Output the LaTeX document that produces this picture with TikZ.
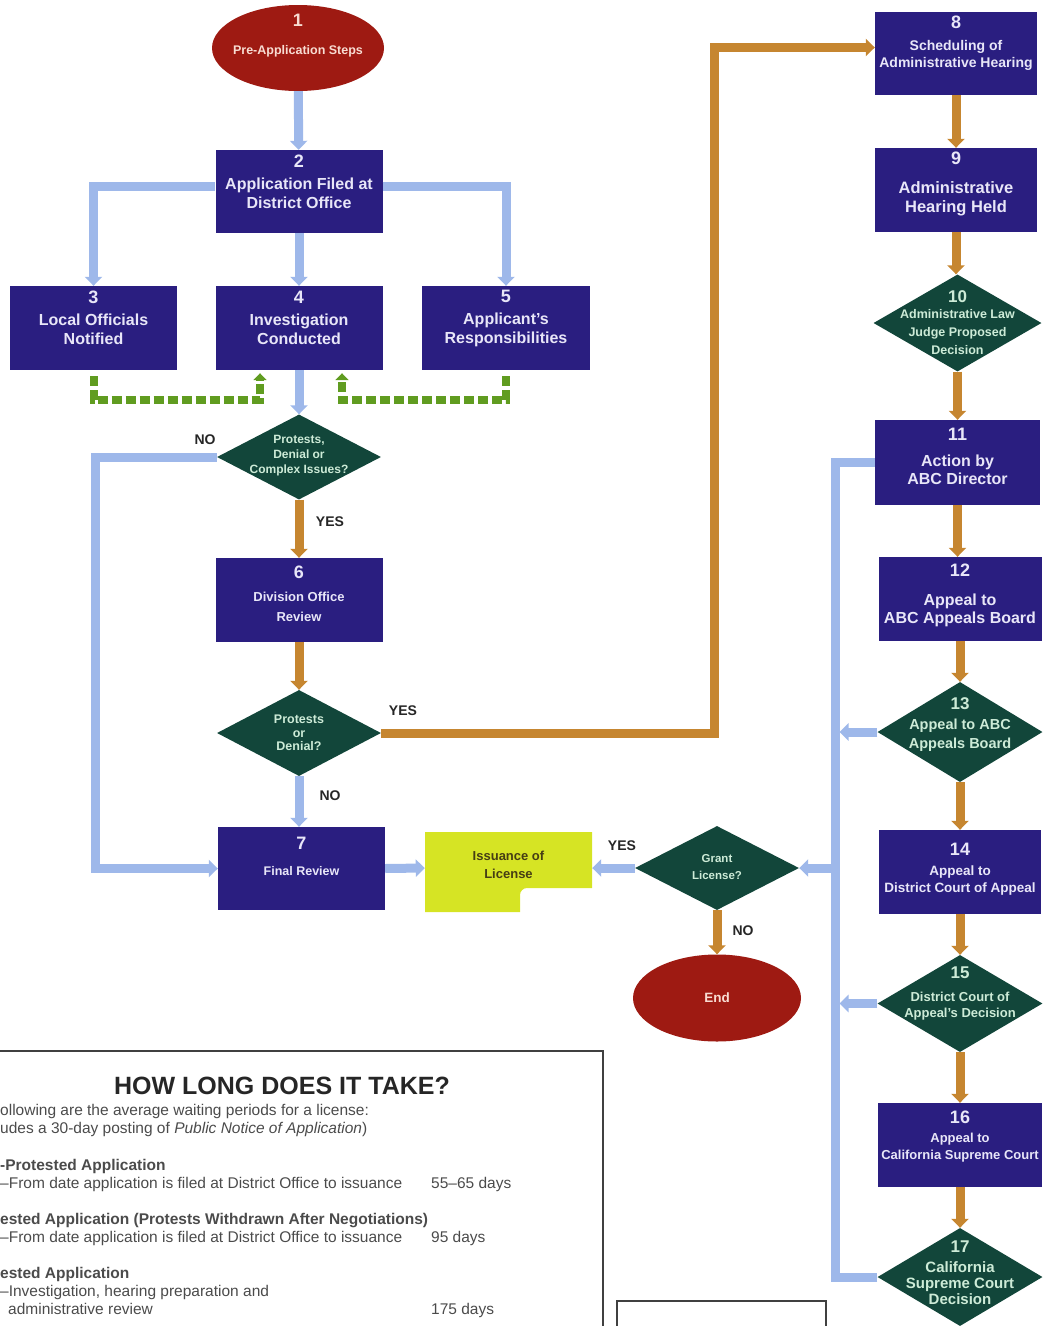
\documentclass[tikz,border=0pt]{standalone}
\usepackage{fontspec}
\setmainfont{Liberation Sans}
\usetikzlibrary{arrows.meta,shapes.geometric}
\definecolor{navy}{RGB}{42,30,128}
\definecolor{navytext}{RGB}{232,230,248}
\definecolor{tealdk}{RGB}{18,70,58}
\definecolor{minttext}{RGB}{205,235,215}
\definecolor{redov}{RGB}{158,26,18}
\definecolor{pinktext}{RGB}{248,220,210}
\definecolor{lblue}{RGB}{158,184,234}
\definecolor{orng}{RGB}{198,134,48}
\definecolor{grn}{RGB}{96,156,32}
\definecolor{yel}{RGB}{214,228,36}
\definecolor{olivetext}{RGB}{70,62,20}
\definecolor{graytext}{RGB}{75,75,75}
\newcommand\bnum[1]{{\fontsize{18}{18}\selectfont #1}}
\newcommand\dnum[1]{{\fontsize{17}{17}\selectfont #1}}
\begin{document}
\begin{tikzpicture}[x=1pt,y=-1pt,
 box/.style={rectangle, fill=navy, minimum width=167pt, minimum height=84pt, inner sep=0pt},
 btxt/.style={text=navytext, align=center, font=\bfseries\fontsize{16}{19}\selectfont, inner sep=0pt},
 dia/.style={diamond, fill=tealdk, minimum width=164pt, minimum height=85pt, inner sep=0pt},
 dtxt/.style={text=minttext, align=center, font=\bfseries\fontsize{12}{15}\selectfont, inner sep=0pt},
 oval/.style={ellipse, fill=redov, minimum width=172pt, minimum height=86pt, inner sep=0pt},
 otxt/.style={text=pinktext, align=center, font=\bfseries\fontsize{12.5}{28}\selectfont, inner sep=0pt},
 bline/.style={draw=lblue, line width=9pt},
 oline/.style={draw=orng, line width=9pt},
 tip/.style={-{Triangle[width=17pt,length=9pt]}},
 gline/.style={draw=grn, line width=8pt, dash pattern=on 10pt off 4pt},
 gtip/.style={-{Triangle[width=13pt,length=7pt]}},
 yn/.style={font=\bfseries\fontsize{14}{14}\selectfont, text=black!85},
 body/.style={anchor=base west, inner sep=0pt, text=graytext, font=\fontsize{15.5}{17}\selectfont},
 bodyb/.style={body, font=\bfseries\fontsize{15.5}{17}\selectfont}
]
\useasboundingbox (0,0) rectangle (1046,1326);

% ---------- left column ----------
\node[oval, label={[otxt,yshift=12pt]center:{\bnum{1}\\Pre-Application Steps}}] (n1) at (298,48) {};
\node[box, minimum height=83pt, label={[btxt,yshift=10pt]center:{\bnum{2}\\[3pt]Application Filed at\\District Office}}] (n2) at (299,191.5) {};
\node[box, label={[btxt,yshift=10pt]center:{\bnum{3}\\[3pt]Local Officials\\Notified}}] (n3) at (93.5,328) {};
\node[box, label={[btxt,yshift=10pt]center:{\bnum{4}\\[3pt]Investigation\\Conducted}}] (n4) at (299,328) {};
\node[box, minimum width=168pt, label={[btxt,yshift=10pt]center:{\bnum{5}\\[3pt]Applicant's\\Responsibilities}}] (n5) at (506,328) {};
\node[dia, label={[dtxt,yshift=1pt]center:{Protests,\\Denial or\\Complex Issues?}}] (q1) at (299,457) {};
\node[box, label={[btxt,yshift=6pt,font=\bfseries\fontsize{13}{20}\selectfont]center:{\bnum{6}\\[3pt]Division Office\\Review}}] (n6) at (299,600) {};
\node[dia, minimum height=86pt, label={[dtxt,font=\bfseries\fontsize{12.5}{13.5}\selectfont]center:{Protests\\or\\Denial?}}] (q2) at (299,733) {};
\node[box, minimum height=83pt, label={[btxt,yshift=12pt,font=\bfseries\fontsize{12.5}{26}\selectfont]center:{\bnum{7}\\Final Review}}] (n7) at (301.5,868.5) {};

% issuance of license
\fill[yel] (425,832) -- (592,832) -- (592,888) -- (527,888) to[out=180,in=90] (520,895) -- (520,912) -- (425,912) -- cycle;
\node[minimum width=167pt, minimum height=72pt, inner sep=0pt, label={[text=olivetext, align=center, inner sep=0pt, font=\bfseries\fontsize{13}{18}\selectfont, yshift=3pt]center:{Issuance of\\License}}] (iss) at (508.5,868) {};

\node[dia, minimum height=84pt, label={[dtxt,yshift=1pt,font=\bfseries\fontsize{11.5}{17}\selectfont]center:{Grant\\License?}}] (grant) at (717,868) {};
\node[oval, minimum width=168pt, minimum height=87pt, label={[otxt,font=\bfseries\fontsize{13.5}{15}\selectfont]center:{End}}] (end) at (717,998) {};

% ---------- right column ----------
\node[box, minimum width=162pt, minimum height=83pt, label={[btxt,yshift=10pt,font=\bfseries\fontsize{14}{17}\selectfont]center:{\bnum{8}\\[5pt]Scheduling of\\Administrative Hearing}}] (n8) at (956,53.5) {};
\node[box, minimum width=162pt, label={[btxt,yshift=6pt,font=\bfseries\fontsize{16.5}{19}\selectfont]center:{\bnum{9}\\[10pt]Administrative\\Hearing Held}}] (n9) at (956,190) {};
\node[dia, minimum width=168pt, minimum height=97pt, label={[dtxt,font=\bfseries\fontsize{12.5}{18}\selectfont]center:{\dnum{10}\\[-2pt]Administrative Law\\Judge Proposed\\Decision}}] (q10) at (957.5,323) {};
\node[box, minimum width=165pt, minimum height=85pt, label={[btxt,yshift=6pt,font=\bfseries\fontsize{16}{18}\selectfont]center:{\bnum{11}\\[8pt]Action by\\ABC Director}}] (n11) at (957.5,462.5) {};
\node[box, minimum width=163pt, label={[btxt,yshift=4pt,font=\bfseries\fontsize{16}{18}\selectfont]center:{\bnum{12}\\[11pt]Appeal to\\ABC Appeals Board}}] (n12) at (960,599) {};
\node[dia, minimum width=165pt, minimum height=100pt, label={[dtxt,yshift=7pt,font=\bfseries\fontsize{14.5}{19}\selectfont]center:{\dnum{13}\\[1pt]Appeal to ABC\\Appeals Board}}] (q13) at (960,732) {};
\node[box, minimum width=162pt, label={[btxt,yshift=3pt,font=\bfseries\fontsize{13.5}{17}\selectfont]center:{\bnum{14}\\[3pt]Appeal to\\District Court of Appeal}}] (n14) at (960,872) {};
\node[dia, minimum width=165pt, minimum height=97pt, label={[dtxt,yshift=10pt,font=\bfseries\fontsize{13}{16}\selectfont]center:{\dnum{15}\\[7pt]District Court of\\Appeal's Decision}}] (q15) at (960,1003.5) {};
\node[box, minimum width=164pt, label={[btxt,yshift=8pt,font=\bfseries\fontsize{13}{17}\selectfont]center:{\bnum{16}\\[2pt]Appeal to\\California Supreme Court}}] (n16) at (960,1145) {};
\node[dia, minimum width=165pt, minimum height=98pt, label={[dtxt,yshift=4pt,font=\bfseries\fontsize{15}{16}\selectfont]center:{\dnum{17}\\[4pt]California\\Supreme Court\\Decision}}] (q17) at (960,1277) {};

% ---------- connectors: left ----------
\draw[bline,tip] (n1) -- (n2);
\draw[bline,tip] ([yshift=5pt]n2.west) -| (n3.north);
\draw[bline,tip] ([yshift=5pt]n2.east) -| (n5.north);
\draw[bline,tip] (n2) -- (n4);
\coordinate (ga) at (260,400);
\coordinate (gb) at (342,400);
\draw[gline,gtip,shorten <=6pt,shorten >=3pt] (n3.south) |- (ga) -- (ga |- n4.south);
\draw[gline,gtip,shorten <=6pt,shorten >=3pt] (n5.south) |- (gb) -- (gb |- n4.south);
\draw[bline,tip] (n4) -- (q1);
\draw[oline,tip] (q1) -- (n6);
\draw[oline,tip] (n6) -- (q2);
\draw[bline,tip] (q2) -- (n7.north -| q2);
\coordinate (nb) at (95,868.5);
\draw[bline,tip] (q1.west) -| (nb) -- (n7.west);
\draw[bline,tip] (n7.east) -- (iss.west);
\draw[bline,tip] (grant.west) -- (iss.east);
\draw[oline,tip] (grant) -- (end);
\coordinate (ya) at (714,733);
\draw[oline,tip] (q2.east) -- (ya) |- ([yshift=6pt]n8.west);

% labels
\node[yn] (lno1) at (205,440) {NO};
\node[yn] (lyes1) at (330,522) {YES};
\node[yn] (lyes2) at (403,711) {YES};
\node[yn] (lno2) at (330,796) {NO};
\node[yn] (lyes3) at (622,846) {YES};
\node[yn] (lno3) at (743,931) {NO};

% ---------- connectors: right ----------
\draw[oline,tip] (n8.south) -- (n8.south |- n9.north);
\draw[oline,tip] (n9.south) -- (n9.south |- q10.north);
\draw[oline,tip] (q10.south) -- (q10.south |- n11.north);
\draw[oline,tip] (n11.south) -- (n11.south |- n12.north);
\draw[oline,tip] (n12.south) -- (n12.south |- q13.north);
\draw[oline,tip] (q13.south) -- (q13.south |- n14.north);
\draw[oline,tip] (n14.south) -- (n14.south |- q15.north);
\draw[oline,tip] (q15.south) -- (q15.south |- n16.north);
\draw[oline,tip] (n16.south) -- (n16.south |- q17.north);

\coordinate (tr) at (835,868);
\draw[bline,tip] (n11.west) -| (tr) -- (grant.east);
\draw[bline] (q17.west) -| (tr);
\draw[bline,tip,shorten >=4.5pt] (q13.west) -- (q13.west -| tr);
\draw[bline,tip,shorten >=4.5pt] (q15.west) -- (q15.west -| tr);

% ---------- timing box ----------
\draw[black!75, line width=1.6pt] (0,1051) -- (603,1051) -- (603,1326);
\node[anchor=base, inner sep=0pt, text=black!85, font=\bfseries\fontsize{25}{27}\selectfont] (ttl) at (282,1094) {HOW LONG DOES IT TAKE?};
\node[body] (t1) at (0,1115) {ollowing are the average waiting periods for a license:};
\node[body] (t2) at (0,1133) {udes a 30-day posting of \textit{Public Notice of Application})};
\node[bodyb] (t3) at (0,1170) {-Protested Application};
\node[body] (t4) at (0,1188) {–From date application is filed at District Office to issuance};
\node[body] (t4d) at (431,1188) {55–65 days};
\node[bodyb] (t5) at (0,1224) {ested Application (Protests Withdrawn After Negotiations)};
\node[body] (t6) at (0,1242) {–From date application is filed at District Office to issuance};
\node[body] (t6d) at (431,1242) {95 days};
\node[bodyb] (t7) at (0,1278) {ested Application};
\node[body] (t8) at (0,1296) {–Investigation, hearing preparation and};
\node[body] (t9) at (8,1314) {administrative review};
\node[body] (t9d) at (431,1314) {175 days};

% legend box (cut off)
\draw[black!75, line width=1.6pt] (617,1326) -- (617,1301) -- (826,1301) -- (826,1326);
\end{tikzpicture}
\end{document}
